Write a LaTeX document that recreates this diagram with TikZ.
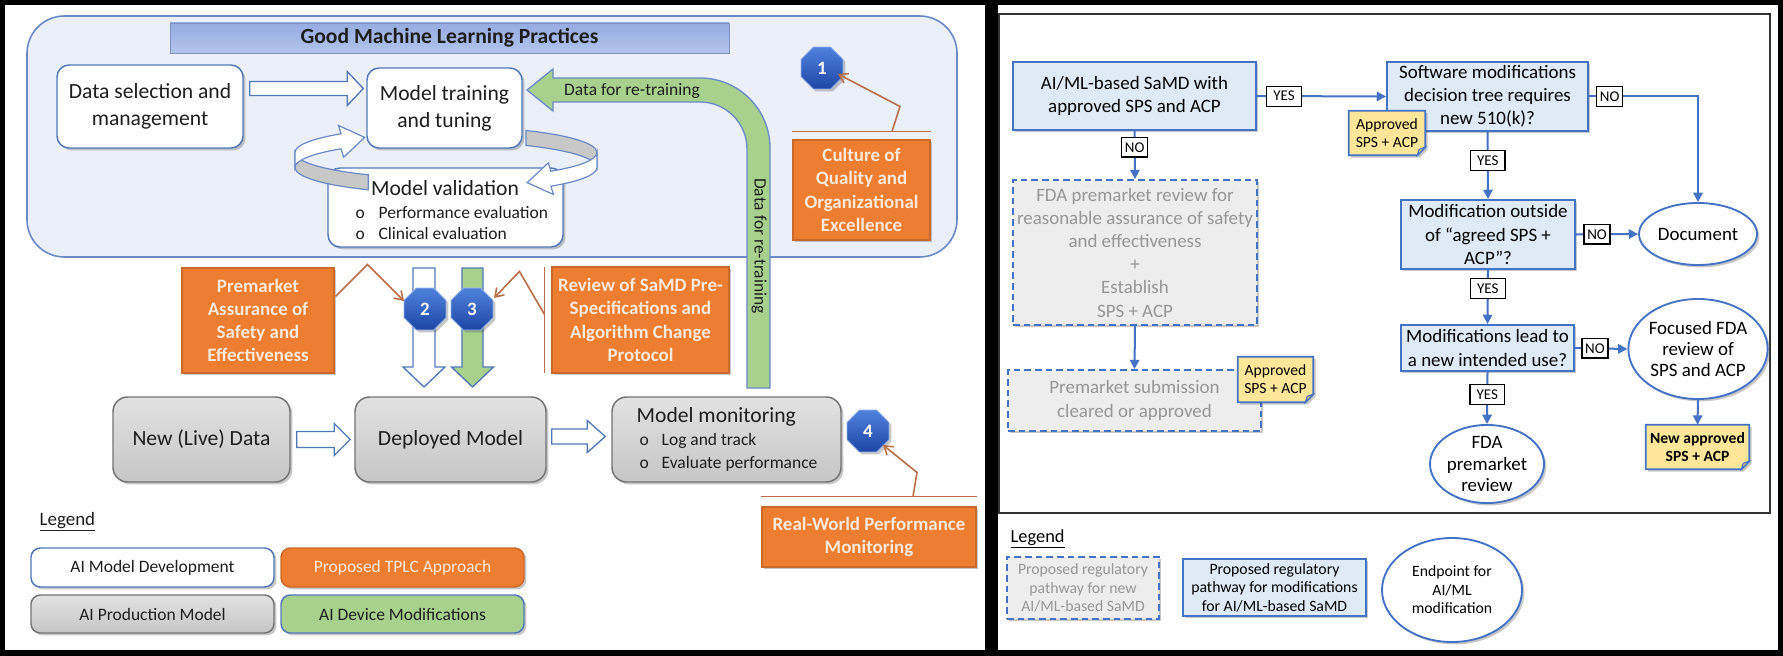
\documentclass[tikz,border=0pt]{standalone}
\usepackage{fontspec}
\setmainfont{Carlito}
\usetikzlibrary{shapes.geometric,fit,calc,shadows,arrows.meta}
\definecolor{bgblue}{RGB}{234,239,248}
\definecolor{rimblue}{RGB}{105,138,198}
\definecolor{boxblue}{RGB}{80,120,185}
\definecolor{titleA}{RGB}{150,172,225}
\definecolor{titleB}{RGB}{178,196,235}
\definecolor{orng}{RGB}{237,125,49}
\definecolor{orngtxt}{RGB}{253,233,217}
\definecolor{calloutc}{RGB}{185,112,72}
\definecolor{octtop}{RGB}{80,130,220}
\definecolor{octbot}{RGB}{30,70,165}
\definecolor{grn}{RGB}{169,209,142}
\definecolor{greyA}{RGB}{226,226,226}
\definecolor{greyB}{RGB}{198,198,198}
\definecolor{greyline}{RGB}{115,115,115}
\definecolor{ringgrey}{RGB}{200,200,200}
\definecolor{fblue}{RGB}{68,114,196}
\definecolor{ffill}{RGB}{222,235,247}
\definecolor{dfill}{RGB}{237,237,237}
\definecolor{dtext}{RGB}{150,150,150}
\definecolor{noteY}{RGB}{255,230,153}
\definecolor{noteF}{RGB}{225,195,120}
\definecolor{txt}{RGB}{30,30,30}
\newcommand\fsA{\fontsize{16.2pt}{20.2pt}\selectfont}
\newcommand\fsB{\fontsize{13.1pt}{15.8pt}\selectfont}
\newcommand\fsC{\fontsize{14.2pt}{17.4pt}\selectfont}
\newcommand\fsCe{\fontsize{14.2pt}{16.1pt}\selectfont}
\newcommand\fsD{\fontsize{11.8pt}{13.9pt}\selectfont}
\newcommand\fsE{\fontsize{11.7pt}{13.5pt}\selectfont}
\newcommand\fsL{\fontsize{11.2pt}{13pt}\selectfont}
% box from pixel corners: style, name, x1, y1, x2, y2, text
\newcommand\bx[7]{\node[#1, minimum width={(#5-#3)*0.75pt}, minimum height={(#6-#4)*0.75pt}] (#2) at ({(#3+#5)/2},{(#4+#6)/2}) {#7};}
% horizontal block arrow: style, start, end, shaft half, head half, head length
\newcommand\hblock[6]{\path[#1] let \p1=(#2), \p2=(#3) in
  (\x1,\y1+#4) -- (\x2-#6,\y1+#4) -- (\x2-#6,\y1+#5) -- (\x2,\y1) -- (\x2-#6,\y1-#5) -- (\x2-#6,\y1-#4) -- (\x1,\y1-#4) -- cycle;}
% downward block arrow
\newcommand\vblock[6]{\path[#1] let \p1=(#2), \p2=(#3) in
  (\x1-#4,\y1) -- (\x1-#4,\y2+#6) -- (\x1-#5,\y2+#6) -- (\x1,\y2) -- (\x1+#5,\y2+#6) -- (\x1+#4,\y2+#6) -- (\x1+#4,\y1) -- cycle;}
% note with folded corner: name, x1, y1, x2, y2, font, text
\newcommand\notebox[7]{%
  \bx{inner sep=0pt}{#1}{#2}{#3}{#4}{#5}{}
  \filldraw[fill=noteY, draw=fblue, line width=1.3pt, shad]
    (#1.north west) -- (#1.north east) -- ($(#1.south east)+(0,-8)$) -- ($(#1.south east)+(-8,0)$) -- (#1.south west) -- cycle;
  \filldraw[fill=noteF, draw=fblue, line width=0.8pt]
    ($(#1.south east)+(0,-8)$) -- ($(#1.south east)+(-6,-6)$) -- ($(#1.south east)+(-8,0)$) -- cycle;
  \node[font=#6, align=center, text=black] (#1t) at (#1) {#7};}
\tikzset{
  shad/.style={drop shadow={shadow xshift=1.8pt,shadow yshift=-1.8pt,opacity=0.3,fill=black!70}},
  devbox/.style={draw=boxblue, fill=white, rounded corners=9pt, line width=1.1pt, inner sep=0pt, align=center, font=\fsA, text=txt, shad},
  prodbox/.style={draw=greyline, top color=greyA, bottom color=greyB, rounded corners=11pt, line width=1.1pt, inner sep=0pt, align=center, font=\fsA, text=txt, shad},
  orbox/.style={fill=orng, draw=orng!85!black, line width=0.8pt, inner sep=0pt, align=center, font=\fsC\bfseries, text=orngtxt, shad},
  oct/.style={regular polygon, regular polygon sides=8, minimum size=34pt, inner sep=0pt, top color=octtop, bottom color=octbot, draw=octtop!60!white, line width=0.6pt, text=white, font=\fsC\bfseries, shad},
  cline/.style={draw=calloutc, line width=1.2pt},
  carrow/.style={draw=calloutc, line width=1.2pt, -{Straight Barb[length=6pt,width=8pt]}},
  ringst/.style={draw=rimblue, line width=0.9pt},
  legbox/.style={rounded corners=7pt, line width=1.1pt, inner sep=0pt, align=center, font=\fsB, shad},
  fbox/.style={draw=fblue, fill=ffill, line width=1.4pt, inner sep=0pt, align=center, font=\fsC, text=black, shad},
  dbox/.style={draw=fblue, fill=dfill, line width=1.3pt, dash pattern=on 5pt off 3pt, inner sep=0pt, align=center, font=\fsC, text=dtext, shad},
  ell/.style={ellipse, draw=fblue, fill=white, line width=1.4pt, inner sep=0pt, align=center, font=\fsCe, text=black, shad},
  labY/.style={draw=black, fill=white, line width=0.9pt, font=\fsL, inner sep=0pt, minimum width=26pt, minimum height=15pt, text=black},
  labN/.style={draw=black, fill=white, line width=0.9pt, font=\fsL, inner sep=0pt, minimum width=19.5pt, minimum height=14.5pt, text=black},
  conn/.style={draw=fblue, line width=1.5pt, -{Triangle[length=7pt,width=7pt]}}
}
\begin{document}
\begin{tikzpicture}[x=0.75pt,y=-0.75pt]
\useasboundingbox (0,0) rectangle (1783,656);
\fill[black] (0,0) rectangle (1783,656);
\fill[white] (5,5) rectangle (985,650);
\fill[white] (998,5) rectangle (1778,650);

% ================= LEFT PANEL =================
\bx{inner sep=0pt, draw=rimblue, fill=bgblue, rounded corners=28pt, line width=1.2pt}{gmlp}{27}{16}{957}{257}{}
\bx{inner sep=0pt, top color=titleA, bottom color=titleB, draw=titleA!85!black, line width=0.6pt, font=\fsA\bfseries, text=txt}{title}{170}{23}{729}{53}{Good Machine Learning Practices}

% green re-training arrow
\filldraw[fill=grn, draw=rimblue, line width=1pt]
  (770,388) -- (770,148) arc[start angle=0,end angle=-90,radius=70] -- (553,78) -- (553,69) -- (527,90) -- (553,111) -- (553,102) -- (700,102) arc[start angle=-90,end angle=0,radius=47] -- (747,388) -- cycle;
\node[font=\fsB, text=txt] (dfr1) at (632,91) {Data for re-training};
\node[font=\fsB, text=txt, rotate=-90] (dfr2) at (759,246) {Data for re-training};

\bx{devbox}{ds}{57}{65}{243}{148}{Data selection and\\management}
% ring, right back part
\filldraw[ringst, fill=ringgrey] (526,130.5) arc[start angle=302,end angle=360,x radius=151,y radius=26] -- (597,167.5) arc[start angle=360,end angle=302,x radius=151,y radius=26] -- cycle;
\bx{devbox}{mt}{367}{68}{522}{148}{Model training\\and tuning}
\bx{devbox}{mv}{328}{168}{563}{247}{}
% ring, left front part and arrows
\filldraw[ringst, fill=ringgrey] (295,152.5) arc[start angle=180,end angle=121,x radius=151,y radius=26] -- (368.2,189.8) arc[start angle=121,end angle=180,x radius=151,y radius=26] -- cycle;
\filldraw[ringst, fill=white] (295,152.5) arc[start angle=180,end angle=226,x radius=151,y radius=26] -- (338.5,125.5) -- (364.7,137.4) -- (343.7,157.1) -- (341.1,148.8) arc[start angle=226,end angle=180,x radius=151,y radius=26] -- cycle;
\filldraw[ringst, fill=white] (597,152.5) arc[start angle=0,end angle=46,x radius=151,y radius=26] -- (548.3,162.9) -- (527.2,182.6) -- (553.5,194.5) -- (550.9,186.2) arc[start angle=46,end angle=0,x radius=151,y radius=26] -- cycle;
\node[font=\fsA, text=txt] (mvt) at (445,188) {Model validation};
\node[font=\fsB, text=txt, anchor=west] (mvb1) at (351,212) {\makebox[17.2pt][l]{o}Performance evaluation};
\node[font=\fsB, text=txt, anchor=west] (mvb2) at (351,233) {\makebox[17.2pt][l]{o}Clinical evaluation};

\hblock{fill=white, draw=boxblue, line width=1pt}{$(ds.east)+(6,-18)$}{$(mt.west)+(-3,0)$}{5.25pt}{12.75pt}{12pt}

% culture + octagon 1
\bx{orbox}{cul}{793}{140}{930}{240}{Culture of\\Quality and\\Organizational\\Excellence}
\draw[cline] ($(cul.north west)+(0,-8)$) -- ($(cul.north east)+(0,-8)$);
\node[oct] (o1) at (822,68) {1};
\draw[carrow] ($(cul.north)+(30.5,-8)$) -- ($(cul.north)+(38.5,-33)$) -- ($(o1)+(16,6)$);

% down arrows 2 and 3
\coordinate (d2s) at (424,268);
\coordinate (d2e) at (424,387);
\coordinate (d3s) at (472.5,268);
\coordinate (d3e) at (472.5,387);
\vblock{fill=white, draw=boxblue, line width=1pt}{d2s}{d2e}{8.25pt}{15.75pt}{15pt}
\vblock{fill=grn, draw=boxblue, line width=1pt}{d3s}{d3e}{7.9pt}{15.75pt}{15pt}
\node[oct] (o2) at (425,309) {2};
\node[oct] (o3) at (472,309) {3};

\bx{orbox}{pa}{182}{268}{334}{373}{Premarket\\Assurance of\\Safety and\\Effectiveness}
\draw[carrow] ($(pa.north east)+(1,29)$) -- ($(pa.north east)+(33,-3)$) -- ($(o2)+(-21,-8)$);
\bx{orbox}{rv}{552}{267}{729}{373}{Review of SaMD Pre-\\Specifications and\\Algorithm Change\\Protocol}
\draw[cline] ($(rv.north west)+(-7,1)$) -- ($(rv.south west)+(-7,-1)$);
\draw[carrow] ($(rv.north west)+(-7,48)$) -- ($(rv.north west)+(-32,5)$) -- ($(o3)+(22,-11)$);

% production row
\bx{prodbox}{nd}{113}{397}{290}{482}{New (Live) Data}
\bx{prodbox}{dm}{355}{397}{546}{482}{Deployed Model}
\bx{prodbox}{mm}{612}{397}{841}{482}{}
\node[font=\fsA, text=txt, anchor=west] (mmt) at (632,417) {Model monitoring};
\node[font=\fsB, text=txt, anchor=west] (mmb1) at (635,441) {\makebox[16.5pt][l]{o}Log and track};
\node[font=\fsB, text=txt, anchor=west] (mmb2) at (635,464) {\makebox[16.5pt][l]{o}Evaluate performance};
\hblock{fill=white, draw=boxblue, line width=1pt}{$(nd.east)+(6,0)$}{$(dm.west)+(-4,0)$}{6pt}{12pt}{12pt}
\hblock{fill=white, draw=boxblue, line width=1pt}{$(dm.east)+(5,-3)$}{$(mm.west)+(-6,0)$}{5.6pt}{12pt}{13.5pt}

\node[oct] (o4) at (868,431) {4};
\bx{orbox}{rw}{762}{507}{976}{567}{Real-World Performance\\Monitoring}
\draw[cline] ($(rw.north west)+(0,-10)$) -- ($(rw.north east)+(0,-10)$);
\draw[carrow] ($(rw.north)+(44,-10)$) -- ($(rw.north)+(48,-34)$) -- ($(o4)+(15,14)$);

% left legend
\node[font=\fsC, text=txt, anchor=west] (lg1) at (35,522) {\underline{Legend}};
\bx{legbox, draw=boxblue, fill=white, text=txt}{lgA}{31}{548}{274}{587}{AI Model Development}
\bx{legbox, draw=orng!85!black, fill=orng, text=orngtxt}{lgB}{281}{548}{524}{587}{Proposed TPLC Approach}
\bx{legbox, draw=greyline, top color=greyA, bottom color=greyB, text=txt}{lgC}{31}{595}{274}{633}{AI Production Model}
\bx{legbox, draw=boxblue, fill=grn, text=txt}{lgD}{281}{595}{524}{633}{AI Device Modifications}

% ================= RIGHT PANEL =================
\bx{inner sep=0pt, draw=black!80, line width=1.1pt}{frame}{999}{14}{1770}{513}{}

\bx{fbox}{A}{1013}{62}{1256}{130}{AI/ML-based SaMD with\\approved SPS and ACP}
\bx{fbox}{S}{1387}{62}{1588}{131}{Software modifications\\decision tree requires\\new 510(k)?}
\bx{dbox}{F}{1013}{180}{1257}{325}{FDA premarket review for\\reasonable assurance of safety\\and effectiveness\\+\\Establish\\SPS + ACP}
\bx{dbox}{P}{1008}{370}{1261}{431}{Premarket submission\\cleared or approved}
\bx{fbox}{M}{1401}{200}{1575}{269}{Modification outside\\of “agreed SPS +\\ACP”?}
\bx{fbox}{L}{1401}{325}{1574}{371}{Modifications lead to\\a new intended use?}
\node[ell, minimum width=88.5pt, minimum height=46.5pt] (D) at (1698,234) {Document};
\node[ell, minimum width=102pt, minimum height=75pt] (Fo) at (1698,349) {Focused FDA\\review of\\SPS and ACP};
\node[ell, minimum width=85.5pt, minimum height=57pt] (E) at (1487,464) {FDA\\premarket\\review};

\draw[conn] (A.east) -- node[labY, pos=0.21] (y1) {YES} (S.west);
\draw[conn] (A.south) -- node[labN, pos=0.34] (n1) {NO} (F.north);
\draw[conn] (F.south) -- (P.north);
\draw[conn] (S.east) -| node[labN, pos=0.095] (n2) {NO} (D.north);
\draw[conn] (S.south) -- node[labY, pos=0.43] (y2) {YES} (M.north);
\draw[conn] (M.east) -- node[labN, pos=0.34] (n3) {NO} (D.west);
\draw[conn] (M.south) -- node[labY, pos=0.35] (y3) {YES} (L.north);
\draw[conn] (L.east) -- node[labN, pos=0.38] (n4) {NO} (Fo.west);
\draw[conn] (L.south) -- node[labY, pos=0.44] (y4) {YES} (E.north);

\notebox{N1}{1349}{111}{1425}{155}{\fsE}{Approved\\SPS + ACP}
\notebox{N2}{1238}{357}{1313}{402}{\fsE}{Approved\\SPS + ACP}
\notebox{N3}{1646}{425}{1749}{469}{\fsE\bfseries}{New approved\\SPS + ACP}
\draw[conn] (Fo.south) -- (N3.north);

% right legend
\node[font=\fontsize{13.8pt}{16pt}\selectfont, text=black, anchor=west] (lg2) at (1006,539) {\underline{Legend}};
\bx{dbox, font=\fsD}{LA}{1007}{557}{1159}{619}{Proposed regulatory\\pathway for new\\AI/ML-based SaMD}
\bx{fbox, font=\fsD}{LB}{1183}{559}{1366}{616}{Proposed regulatory\\pathway for modifications\\for AI/ML-based SaMD}
\node[ell, minimum width=105pt, minimum height=78pt, font=\fsD] (LC) at (1452,590) {Endpoint for\\AI/ML\\modification};
\end{tikzpicture}
\end{document}
